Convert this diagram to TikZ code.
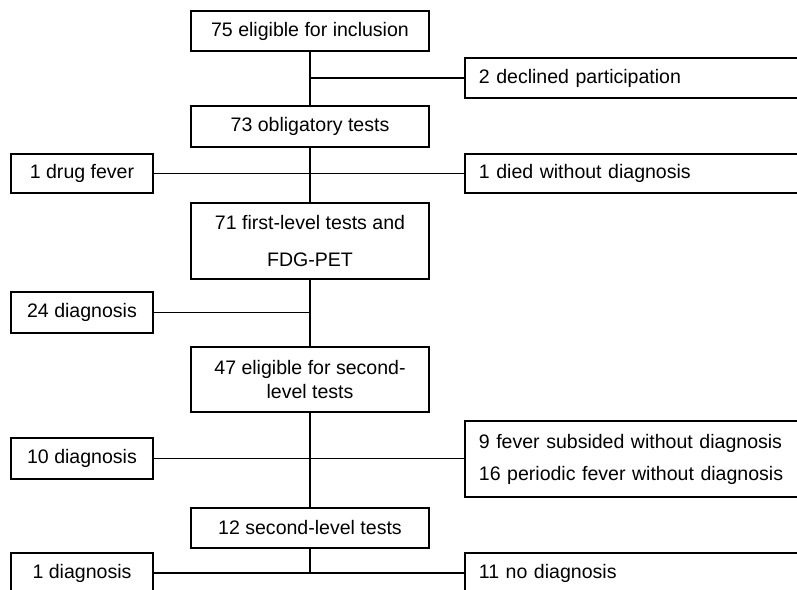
\documentclass[tikz,border=0pt]{standalone}
\usepackage{fontspec}
\setmainfont{Liberation Sans}

\begin{document}
\begin{tikzpicture}[x=0.025cm, y=-0.025cm,
      stage/.style={draw, line width=1.3pt, minimum width=5.95cm, inner sep=0pt,
                    align=center, font=\fontsize{13.9}{17}\selectfont},
      leftbox/.style={draw, line width=1.3pt, minimum width=3.55cm, inner sep=0pt,
                      align=center, font=\fontsize{13.9}{17}\selectfont},
      rightbox/.style={draw, line width=1.3pt, anchor=west, text width=8.6cm,
                       inner xsep=0.35cm, inner ysep=0pt, align=left,
                       font=\fontsize{13.9}{17}\selectfont},
      link/.style={line width=0.9pt}
    ]
      \useasboundingbox (0,0) rectangle (797,590);
      \clip (0,0) rectangle (797,590);

      \node[stage, minimum height=1cm] (incl) at (310,31) {75 eligible for inclusion};
      \node[rightbox, minimum height=1cm] (declined) at (464,78) {2 declined participation};
      \node[stage, minimum height=1.025cm] (oblig) at (310,126.5) {73 obligatory tests};
      \node[leftbox, minimum height=0.975cm] (drug) at (82,173.5) {1 drug fever};
      \node[rightbox, minimum height=0.975cm] (died) at (464,173.5) {1 died without diagnosis};
      \node[stage, minimum height=1.9cm] (first) at (310,241) {71 first-level tests and\\[9.3pt]FDG-PET};
      \node[leftbox, minimum height=1.025cm] (diag24) at (82,312.5) {24 diagnosis};
      \node[stage, minimum height=1.625cm] (elig) at (310,379.5) {47 eligible for second-\\level tests};
      \node[leftbox, minimum height=1.025cm] (diag10) at (82,458.5) {10 diagnosis};
      \node[rightbox, minimum height=1.9cm] (nodiag) at (464,459) {9 fever subsided without diagnosis\\[5.8pt]16 periodic fever without diagnosis};
      \node[stage, minimum height=1cm] (second) at (310,528) {12 second-level tests};
      \node[leftbox, minimum height=1cm] (diag1) at (82,573) {1 diagnosis};
      \node[rightbox, minimum height=1cm] (diag11) at (464,573) {11 no diagnosis};

      \draw[link] (incl) -- (oblig);
      \draw[link] (incl.south |- declined.west) -- (declined.west);
      \draw[link] (oblig) -- (first);
      \draw[link] (drug) -- (died);
      \draw[link] (first) -- (elig);
      \draw[link] (diag24) -- (diag24 -| first.south);
      \draw[link] (elig) -- (second);
      \draw[link] (diag10) -- (diag10 -| nodiag.west);
      \draw[link] (second) -- (second |- diag1);
      \draw[link] (diag1) -- (diag11);
    \end{tikzpicture}
\end{document}
